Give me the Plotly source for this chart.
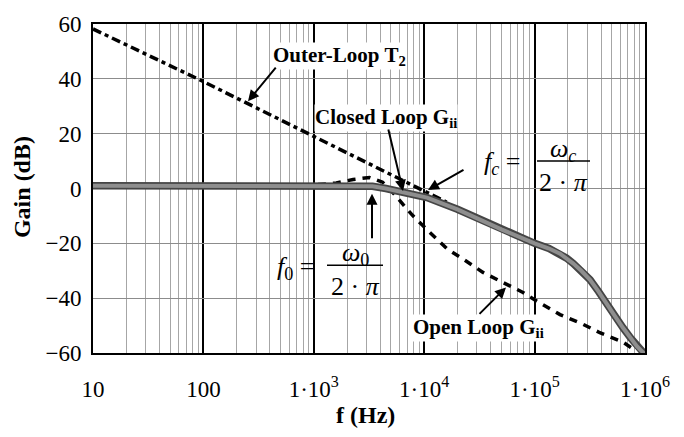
import plotly.graph_objects as go

# Frequency response data (Hz, dB)
freq_t2 = [10, 100, 1000, 10000, 16000]
gain_t2 = [58.2, 39.0, 19.0, -1.2, -5.0]

freq_ol = [10, 1000, 1600, 2270, 3200, 4200, 5200, 6300, 7800, 10600, 16100,
           22400, 34100, 51800, 78500, 100000, 170000, 274000, 390000, 630000, 810000]
gain_ol = [1.0, 1.3, 2.0, 3.3, 4.0, 2.3, -1.5, -5.5, -9.7, -15.0, -22.0,
           -25.7, -30.6, -34.3, -37.9, -40.6, -46.0, -49.5, -52.6, -56.0, -59.0]

freq_cl = [10, 1000, 2500, 3400, 4500, 5700, 7500, 10600, 20000, 50000, 100000,
           135000, 170000, 195000, 223000, 265000, 318000, 380000, 453000,
           540000, 632000, 740000, 847000, 1000000]
gain_cl = [1.0, 1.0, 1.0, 0.8, 0.0, -0.9, -2.0, -3.3, -7.6, -14.9, -20.0,
           -21.9, -23.8, -25.4, -27.3, -30.0, -33.3, -37.6, -42.4,
           -46.8, -50.8, -54.5, -57.6, -60.5]

x_ticks = [10, 100, 1000, 10000, 100000, 1000000]
x_ticktext = ["10", "100", "1·10<sup>3</sup>", "1·10<sup>4</sup>",
              "1·10<sup>5</sup>", "1·10<sup>6</sup>"]
y_ticks = [-60, -40, -20, 0, 20, 40, 60]

minor_vals = [m * 10 ** e for e in range(1, 6) for m in range(2, 10)]

SERIF = "Liberation Serif"

fig = go.Figure()

fig.add_trace(go.Scatter(
    x=freq_t2, y=gain_t2, mode="lines",
    line=dict(color="black", width=3.5, dash="9px,4px,4px,4px"),
    name="Outer-Loop T2", showlegend=False))

fig.add_trace(go.Scatter(
    x=freq_ol, y=gain_ol, mode="lines",
    line=dict(color="black", width=3.5, dash="8px,7px"),
    name="Open Loop Gii", showlegend=False))

fig.add_trace(go.Scatter(
    x=freq_cl, y=gain_cl, mode="lines",
    line=dict(color="#454545", width=7.5),
    name="Closed Loop Gii", showlegend=False, hoverinfo="skip"))
fig.add_trace(go.Scatter(
    x=freq_cl, y=gain_cl, mode="lines",
    line=dict(color="#8e8e8e", width=4),
    name="Closed Loop Gii", showlegend=False))

L, R, T, B = 93, 39, 12, 84
W, H = 684, 437
PW, PH = W - L - R, H - T - B


def px(xp):
    return (xp - L) / PW


def py(yp):
    return (H - B - yp) / PH


annotations = []


def label(text, xc, yc, size=21, bold=True, bg="white", angle=0):
    a = dict(
        x=px(xc), y=py(yc), xref="paper", yref="paper", text=text,
        showarrow=False, xanchor="center", yanchor="middle", textangle=angle,
        font=dict(family=SERIF, size=size, color="black",
                  weight="bold" if bold else "normal"),
        borderpad=0)
    if bg:
        a["bgcolor"] = bg
    annotations.append(a)


def arrow(hx, hy, tx, ty):
    annotations.append(dict(
        x=px(hx), y=py(hy), xref="paper", yref="paper", text="",
        showarrow=True, ax=tx - hx, ay=ty - hy, axref="pixel", ayref="pixel",
        arrowhead=2, arrowsize=1.1, arrowwidth=2, arrowcolor="black",
        standoff=0, startstandoff=0))


# Curve labels
label("Outer-Loop T<sub>2</sub>", 339, 45)
arrow(248, 92, 277, 57)
label("Closed Loop G<sub>ii</sub>", 386, 109)
arrow(403, 185, 388, 122)
label("Open Loop G<sub>ii</sub>", 478, 327)
arrow(506, 285, 478, 313)

# Crossover frequency formula
FS = 26
label("<i>f</i><sub><i>c</i></sub> =", 502, 156, size=FS, bold=False, bg=None)
label("<i>ω</i><sub><i>c</i></sub>", 563, 143, size=FS, bold=False, bg=None)
label("2 · <i>π</i>", 563, 176, size=FS, bold=False, bg=None)
arrow(428, 184, 465, 163)

# Resonance frequency formula
label("<i>f</i><sub>0</sub> =", 296, 265, size=FS, bold=False, bg=None)
label("<i>ω</i><sub>0</sub>", 355, 250, size=FS, bold=False, bg=None)
label("2 · <i>π</i>", 355, 284, size=FS, bold=False, bg=None)
arrow(372, 188, 372, 234)

# Axis titles
label("f (Hz)", 365, 417, size=24, bg=None)
label("Gain (dB)", 22, 181, size=24, bg=None, angle=-90)


def mask(x0, y0, x1, y1):
    # white patch over the grid, under the curves
    return dict(type="rect", xref="paper", yref="paper", layer="between",
                x0=px(x0), x1=px(x1), y0=py(y1), y1=py(y0),
                fillcolor="white", line=dict(width=0))


shapes = [
    mask(472, 128, 596, 190),
    mask(268, 236, 388, 296),
    dict(type="line", xref="paper", yref="paper", x0=px(537), x1=px(590),
         y0=py(154), y1=py(154), line=dict(color="black", width=1.5)),
    dict(type="line", xref="paper", yref="paper", x0=px(327), x1=px(383),
         y0=py(262), y1=py(262), line=dict(color="black", width=1.5)),
]

fig.update_layout(
    width=W, height=H,
    margin=dict(l=L, r=R, t=T, b=B),
    paper_bgcolor="white", plot_bgcolor="white",
    font=dict(family=SERIF, color="black"),
    annotations=annotations, shapes=shapes,
    showlegend=False,
)

fig.update_xaxes(
    type="log", range=[1, 6],
    tickmode="array", tickvals=x_ticks, ticktext=x_ticktext,
    tickfont=dict(family=SERIF, size=23, color="black"),
    ticks="", ticklabelstandoff=14,
    showgrid=True, gridcolor="black", gridwidth=1.5,
    minor=dict(tickmode="array", tickvals=minor_vals, showgrid=True,
               gridcolor="#a6a6a6", gridwidth=1, ticks=""),
    showline=True, mirror=True, linecolor="black", linewidth=2,
    zeroline=False,
)

fig.update_yaxes(
    range=[-60, 60], tickmode="array", tickvals=y_ticks,
    tickfont=dict(family=SERIF, size=23, color="black"),
    ticks="", ticklabelstandoff=5,
    showgrid=True, gridcolor="#8c8c8c", gridwidth=1,
    showline=True, mirror=True, linecolor="black", linewidth=2,
    zeroline=False,
)

fig.write_html("out.html")
